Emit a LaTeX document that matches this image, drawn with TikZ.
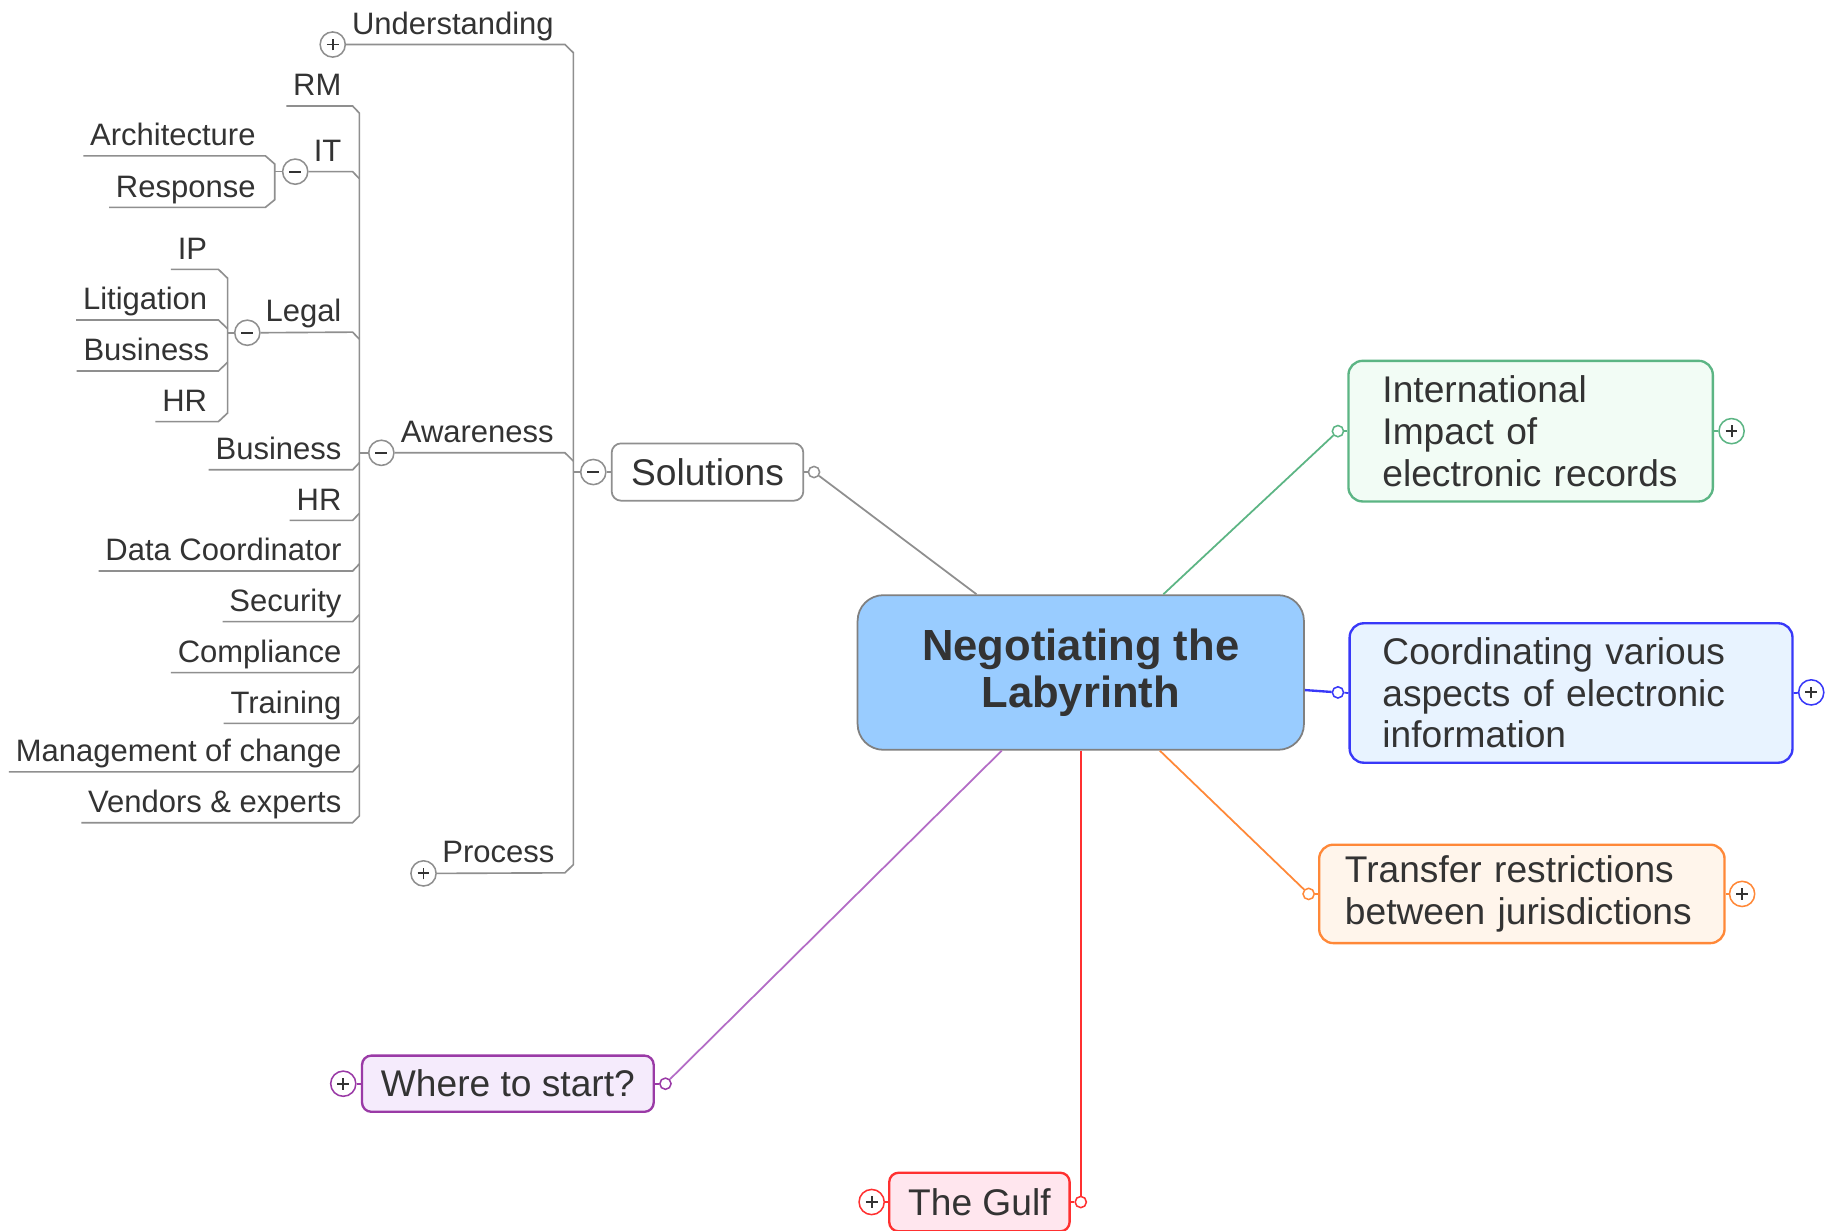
\documentclass[tikz,border=0pt]{standalone}
\usepackage{fontspec}
\setmainfont{Liberation Sans}
\usetikzlibrary{calc}
\definecolor{txt}{HTML}{333333}
\definecolor{tree}{HTML}{8F8F8F}
\definecolor{mainfill}{HTML}{99CCFF}
\definecolor{mainline}{HTML}{808080}
\definecolor{grn}{HTML}{5CB584}
\definecolor{grnfill}{HTML}{F2FCF5}
\definecolor{blu}{HTML}{3838F8}
\definecolor{blufill}{HTML}{E8F3FF}
\definecolor{org}{HTML}{FF8838}
\definecolor{orgfill}{HTML}{FFF5EB}
\definecolor{pur}{HTML}{9A3AA6}
\definecolor{purline}{HTML}{B36CC6}
\definecolor{purfill}{HTML}{F5EBFC}
\definecolor{rd}{HTML}{FF3030}
\definecolor{rdfill}{HTML}{FFE6EE}
\newcommand\fsub{\fontsize{26.45}{30}\selectfont}
\newcommand\fbr{\fontsize{31.7}{35.5}\selectfont}
\newcommand\fmain{\fontsize{37.2}{40.5}\selectfont\bfseries}
\tikzset{
  x=1pt, y=-1pt,
  lbl/.style={font=\fsub, text=txt, text height=19.5pt, text depth=6pt, inner xsep=5.7pt, inner ysep=2.5pt, anchor=south east},
  treeline/.style={draw=tree, line width=1.4pt},
  tog/.style={circle, draw=#1, fill=white, minimum size=21.5pt, inner sep=0pt, line width=1.3pt},
  tplus/.style={path picture={\draw[txt, line width=1.6pt] ([xshift=-5pt]path picture bounding box.center) -- ([xshift=5pt]path picture bounding box.center) ([yshift=-5pt]path picture bounding box.center) -- ([yshift=5pt]path picture bounding box.center);}},
  tminus/.style={path picture={\draw[txt, line width=1.6pt] ([xshift=-5pt]path picture bounding box.center) -- ([xshift=5pt]path picture bounding box.center);}},
  dotc/.style={circle, draw=#1, fill=white, minimum size=9.6pt, inner sep=0pt, line width=1.3pt},
  topic/.style 2 args={draw=#1, fill=#2, rounded corners=12pt, line width=2pt, font=\fbr, text=txt, inner ysep=0pt},
  link/.style={draw=#1, line width=1.5pt},
}
\begin{document}
\begin{tikzpicture}
\useasboundingbox (0,0) rectangle (1568,1050);
\fill[white] (0,0) rectangle (1568,1050);
\clip (0,0) rectangle (1568,1050);

% ---------- central topic
\node[draw=mainline, fill=mainfill, line width=1.5pt, rounded corners=22pt,
      minimum width=381pt, minimum height=132pt, font=\fmain, text=txt, align=center]
      (main) at (922.5,574) {Negotiating the\\Labyrinth};

% ---------- Solutions
\node[topic={tree}{white}, line width=1.5pt, rounded corners=8pt, minimum width=163.6pt, minimum height=48.9pt]
      (sol) at (603.9,402.9) {Solutions};
\node[tog=tree, tminus] (sol-c) at (506.4,402.9) {};
\node[dotc=tree] (sol-d) at (694.8,402.9) {};
\draw[treeline] (sol-c.east) -- (sol.west);
\draw[treeline] (sol.east) -- (sol-d);
\draw[link=tree] (sol-d) -- ([xshift=-89pt]main.north);

% first level of Solutions
\coordinate (solT) at (489.4,45);
\coordinate (solB) at (489.4,738);
\node[tog=tree, tplus] (und-c) at (284,38) {};
\node[lbl] (und) at (478.5,38) {Understanding};
\node[tog=tree, tminus] (aw-c) at (325.5,386.5) {};
\node[lbl] (aw) at (478.5,386.5) {Awareness};
\node[tog=tree, tplus] (proc-c) at (361.5,745.5) {};
\node[lbl] (proc) at (479,745) {Process};
\draw[treeline] (und-c.east) -- ($(und.south east)+(3.7,0)$) -- (solT) -- (solB) -- ($(proc.south east)+(3.2,0)$) -- (proc-c.east);
\draw[treeline] (aw-c.east) -- ($(aw.south east)+(3.7,0)$) -- ($(aw.south east)+(10.9,7)$);
\draw[treeline] (sol-c.west) -- (sol-c.west -| solT);

% children of Awareness
\coordinate (awT) at (306.7,96.5);
\coordinate (awB) at (306.7,696.5);
\node[lbl] (rm) at (297.3,90.5) {RM};
\node[tog=tree, tminus] (it-c) at (252,146.5) {};
\node[lbl] (it) at (297.3,146.5) {IT};
\node[tog=tree, tminus] (leg-c) at (211.1,284) {};
\node[lbl] (leg) at (297.3,283.5) {Legal};
\node[lbl] (bus) at (297.3,401) {Business};
\node[lbl] (hr) at (297.3,444.2) {HR};
\node[lbl] (data) at (297.3,487.4) {Data Coordinator};
\node[lbl] (sec) at (297.3,530.6) {Security};
\node[lbl] (comp) at (297.3,574.1) {Compliance};
\node[lbl] (train) at (297.3,617.4) {Training};
\node[lbl] (mgmt) at (297.3,658.8) {Management of change};
\node[lbl] (vend) at (297.3,702.2) {Vendors \& experts};
\draw[treeline] (rm.south west) -- ($(rm.south east)+(3.7,0)$) -- (awT) -- (awB) -- ($(vend.south east)+(3.7,0)$) -- (vend.south west);
\draw[treeline] (aw-c.west) -- (aw-c.west -| awT);
\draw[treeline] (it-c.east) -- ($(it.south east)+(3.7,0)$) -- ($(it.south east)+(9.4,6)$);
\draw[treeline] (leg-c.east) -- ($(leg.south east)+(3.7,0)$) -- ($(leg.south east)+(9.4,6)$);
\foreach \n in {bus,hr,data,sec,comp,train,mgmt}
  \draw[treeline] (\n.south west) -- ($(\n.south east)+(3.7,0)$) -- ($(\n.south east)+(9.4,-6)$);

% children of IT
\coordinate (itT) at (234.5,140);
\coordinate (itB) at (234.5,170.5);
\node[lbl] (arch) at (224,133) {Architecture};
\node[lbl] (resp) at (224,177) {Response};
\draw[treeline] (arch.south west) -- ($(arch.south east)+(2.5,0)$) -- (itT) -- (itB) -- ($(resp.south east)+(2.5,0)$) -- (resp.south west);
\draw[treeline] (it-c.west) -- (it-c.west -| itT);

% children of Legal
\coordinate (legT) at (194.3,237.5);
\coordinate (legB) at (194.3,352.5);
\node[lbl] (ip) at (182.7,229.9) {IP};
\node[lbl] (lit) at (182.7,273.1) {Litigation};
\node[lbl] (lbus) at (184.5,316.7) {Business};
\node[lbl] (lhr) at (182.7,359.9) {HR};
\draw[treeline] (ip.south west) -- ($(ip.south east)+(3.7,0)$) -- (legT) -- (legB) -- ($(lhr.south east)+(3.7,0)$) -- (lhr.south west);
\draw[treeline] (lit.south west) -- ($(lit.south east)+(3.7,0)$) -- ($(lit.south east)+(11.6,7.5)$);
\draw[treeline] (lbus.south west) -- ($(lbus.south east)+(1.9,0)$) -- ($(lbus.south east)+(9.8,-7.5)$);
\draw[treeline] (leg-c.west) -- (leg-c.west -| legT);

% ---------- International
\node[topic={grn}{grnfill}, minimum width=311pt, minimum height=120pt, text width=253pt, inner xsep=29pt, align=left]
      (intl) at (1306.5,368) {International\\Impact of\\electronic records};
\node[dotc=grn] (intl-d) at (1142,368) {};
\node[tog=grn, tplus] (intl-c) at (1478,368) {};
\draw[link=grn] ([xshift=70.5pt]main.north) -- (intl-d);
\draw[link=grn] (intl-d) -- (intl.west);
\draw[link=grn] (intl.east) -- (intl-c);

% ---------- Coordinating
\node[topic={blu}{blufill}, minimum width=378pt, minimum height=119pt, text width=322pt, inner xsep=28pt, align=left]
      (coord) at (1341,591.5) {Coordinating various\\aspects of electronic\\information};
\node[dotc=blu] (coord-d) at (1142,591) {};
\node[tog=blu, tplus] (coord-c) at (1546,591) {};
\draw[link=blu, line width=2pt] ([yshift=-15pt]main.east) -- (coord-d);
\draw[link=blu] (coord-d) -- (coord.west);
\draw[link=blu] (coord.east) -- (coord-c);

% ---------- Transfer
\node[topic={org}{orgfill}, minimum width=346pt, minimum height=84pt, text width=302pt, inner xsep=22pt, align=left]
      (trans) at (1299,763) {Transfer restrictions\\between jurisdictions};
\node[dotc=org] (trans-d) at (1117,763) {};
\node[tog=org, tplus] (trans-c) at (1487,763) {};
\draw[link=org] ([xshift=67.5pt]main.south) -- (trans-d);
\draw[link=org] (trans-d) -- (trans.west);
\draw[link=org] (trans.east) -- (trans-c);

% ---------- Where to start?
\node[topic={pur}{purfill}, rounded corners=8pt, minimum width=249pt, minimum height=48pt]
      (where) at (433.5,925) {Where to start?};
\node[dotc=pur] (where-d) at (568,925) {};
\node[tog=pur, tplus] (where-c) at (293,925) {};
\draw[link=purline] ([xshift=-67.5pt]main.south) -- (where-d);
\draw[link=pur] (where-d) -- (where.east);
\draw[link=pur] (where.west) -- (where-c);

% ---------- The Gulf
\node[topic={rd}{rdfill}, rounded corners=8pt, minimum width=154pt, minimum height=50pt]
      (gulf) at (836,1026) {The Gulf};
\node[dotc=rd] (gulf-d) at (922.5,1026) {};
\node[tog=rd, tplus] (gulf-c) at (744,1026) {};
\draw[link=rd] (main.south) -- (gulf-d);
\draw[link=rd] (gulf-d) -- (gulf.east);
\draw[link=rd] (gulf.west) -- (gulf-c);
\end{tikzpicture}
\end{document}
